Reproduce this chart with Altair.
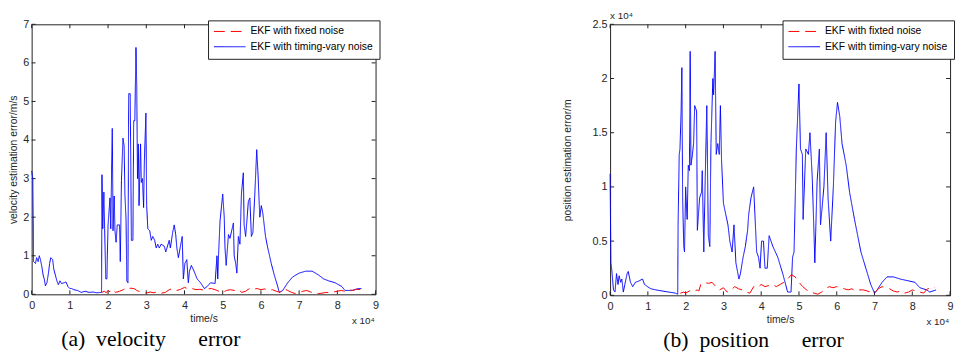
import altair as alt
import pandas as pd

# ---------------- data (time in units of 1e4 s) ----------------
x_ticks = [0, 1, 2, 3, 4, 5, 6, 7, 8, 9]
vel_y_ticks = [0, 1, 2, 3, 4, 5, 6, 7]
pos_y_ticks = [0, 0.5, 1, 1.5, 2, 2.5]

vel_names = ["EKF with fixed noise", "EKF with timing-vary noise"]
pos_names = ["EKF with fixted noise", "EKF with timing-vary noise"]

vel_blue_t = [0, 0.03, 0.05, 0.1, 0.13, 0.17, 0.2, 0.23, 0.27, 0.3, 0.33, 0.36, 0.4, 0.44, 0.47, 0.5,
              0.55, 0.58, 0.62, 0.66, 0.7, 0.74, 0.78, 0.85, 0.9, 0.95, 1.0, 1.05, 1.1, 1.2, 1.3, 1.4,
              1.5, 1.6, 1.7, 1.83, 1.84, 1.86, 1.89, 1.91, 1.94, 1.97, 1.98, 2.0, 2.05, 2.07, 2.11,
              2.13, 2.16, 2.18, 2.21, 2.24, 2.3, 2.32, 2.35, 2.39, 2.42, 2.44, 2.47, 2.49, 2.52, 2.54,
              2.58, 2.61, 2.65, 2.67, 2.7, 2.73, 2.75, 2.77, 2.79, 2.81, 2.85, 2.87, 2.9, 2.93, 2.95,
              2.99, 3.01, 3.04, 3.09, 3.13, 3.17, 3.22, 3.26, 3.3, 3.34, 3.39, 3.47, 3.51, 3.6, 3.63,
              3.69, 3.73, 3.77, 3.8, 3.84, 3.94, 3.97, 4.01, 4.06, 4.1, 4.13, 4.18, 4.25, 4.33, 4.42,
              4.52, 4.59, 4.68, 4.8, 4.85, 4.87, 4.89, 4.93, 5.0, 5.04, 5.06, 5.09, 5.15, 5.19, 5.28,
              5.3, 5.34, 5.37, 5.41, 5.45, 5.49, 5.54, 5.56, 5.6, 5.64, 5.67, 5.71, 5.75, 5.79, 5.84,
              5.89, 5.92, 5.97, 6.01, 6.05, 6.12, 6.18, 6.27, 6.35, 6.44, 6.48, 6.57, 6.7, 6.83, 7.0,
              7.17, 7.34, 7.51, 7.64, 7.77, 7.94, 8.12, 8.2, 8.38, 8.55, 8.63]
vel_blue_v = [3.2, 3.0, 0.85, 0.8, 0.95, 0.85, 1.0, 0.9, 0.7, 0.5, 0.4, 0.22, 0.3, 0.55, 0.8, 0.95,
              0.9, 0.65, 0.5, 0.35, 0.25, 0.35, 0.28, 0.3, 0.32, 0.2, 0.15, 0.15, 0.12, 0.1, 0.05, 0.08,
              0.05, 0.06, 0.04, 0.05, 3.1, 1.7, 2.65, 1.7, 0.4, 0.4, 1.0, 1.8, 2.5, 1.7, 4.3,
              1.65, 2.55, 1.65, 1.35, 1.8, 1.8, 0.85, 2.95, 4.05, 3.85, 2.6, 1.95, 0.35, 0.3, 5.2,
              5.2, 1.4, 1.4, 4.5, 4.5, 6.4, 5.4, 3.0, 3.9, 2.3, 3.9, 2.9, 3.0, 2.25, 3.45,
              4.7, 2.3, 1.7, 1.65, 1.4, 1.5, 1.4, 1.2, 1.3, 1.2, 1.3, 1.25, 1.1, 1.4, 1.2,
              1.6, 1.8, 1.55, 1.2, 0.95, 1.5, 0.4, 0.8, 0.9, 0.3, 0.6, 0.75, 0.6, 0.4, 0.3,
              0.15, 0.2, 0.3, 0.28, 1.0, 0.4, 1.0, 1.9, 2.6, 2.0, 1.2, 0.75, 1.55, 1.45, 1.85,
              1.0, 0.8, 0.55, 1.5, 1.3, 2.6, 3.15, 1.8, 1.5, 2.0, 2.4, 2.5, 1.5, 1.6, 2.6,
              3.75, 3.2, 2.0, 2.3, 2.1, 1.5, 1.2, 0.8, 0.5, 0.2, 0.05, 0.1, 0.3, 0.45, 0.55,
              0.6, 0.6, 0.5, 0.4, 0.35, 0.3, 0.2, 0.1, 0.1, 0.15, 0.15]

vel_red_t = [1.84, 1.9, 1.95, 2.0, 2.05, 2.1, 2.15, 2.2, 2.3, 2.4, 2.5, 2.55, 2.6, 2.7, 2.75, 2.8, 2.9,
             3.0, 3.1, 3.2, 3.3, 3.4, 3.5, 3.6, 3.7, 3.8, 3.9, 4.0, 4.1, 4.2, 4.3, 4.4, 4.5, 4.6, 4.7,
             4.8, 4.9, 5.0, 5.1, 5.2, 5.3, 5.4, 5.5, 5.6, 5.7, 5.8, 5.9, 6.0, 6.1, 6.2, 6.3, 6.4, 6.5,
             6.6, 6.7, 6.8, 6.9, 7.0, 7.1, 7.2, 7.3, 7.4, 7.5, 7.6, 7.7, 7.8, 7.9, 8.0, 8.1, 8.2, 8.3,
             8.4, 8.5, 8.6]
vel_red_v = [0.05, 0.08, 0.04, 0.1, 0.06, 0.12, 0.08, 0.05, 0.08, 0.12, 0.18, 0.15, 0.16, 0.14, 0.1, 0.08, 0.06,
             0.03, 0.06, 0.04, 0.07, 0.03, 0.05, 0.12, 0.15, 0.1, 0.13, 0.18, 0.14, 0.15, 0.12, 0.13, 0.11, 0.14, 0.15,
             0.12, 0.08, 0.05, 0.1, 0.12, 0.1, 0.13, 0.05, 0.08, 0.15, 0.13, 0.15, 0.12, 0.14, 0.1, 0.12, 0.08, 0.05,
             0.15, 0.1, 0.05, 0.02, 0.05, 0.08, 0.1, 0.06, 0.04, 0.02, 0.03, 0.05, 0.04, 0.06, 0.08, 0.1, 0.08, 0.12,
             0.1, 0.13, 0.12]

# position values in units of 1e4 m
pos_blue_t = [0, 0.02, 0.04, 0.09, 0.13, 0.17, 0.21, 0.24, 0.28, 0.31, 0.35, 0.39, 0.45, 0.48, 0.54, 0.6,
              0.67, 0.75, 0.86, 0.91, 0.99, 1.08, 1.21, 1.38, 1.55, 1.73, 1.79, 1.8, 1.83, 1.85, 1.88,
              1.9, 1.92, 1.95, 1.97, 2.0, 2.04, 2.07, 2.1, 2.12, 2.14, 2.18, 2.21, 2.24, 2.29, 2.31,
              2.37, 2.42, 2.44, 2.48, 2.52, 2.56, 2.6, 2.64, 2.67, 2.72, 2.74, 2.78, 2.81, 2.85, 2.89,
              2.92, 2.95, 3.0, 3.06, 3.12, 3.17, 3.23, 3.28, 3.33, 3.41, 3.45, 3.52, 3.58, 3.64, 3.67,
              3.73, 3.8, 3.84, 3.88, 3.93, 3.97, 4.01, 4.06, 4.1, 4.16, 4.21, 4.31, 4.44, 4.57, 4.7,
              4.79, 4.83, 4.87, 4.93, 5.0, 5.04, 5.09, 5.11, 5.18, 5.25, 5.29, 5.35, 5.4, 5.42, 5.48,
              5.54, 5.57, 5.61, 5.66, 5.72, 5.77, 5.84, 5.91, 5.97, 6.02, 6.08, 6.14, 6.25, 6.34, 6.47,
              6.64, 6.77, 6.9, 7.0, 7.07, 7.2, 7.33, 7.5, 7.68, 7.94, 8.07, 8.2, 8.38, 8.46, 8.63]
pos_blue_v = [1.12, 0.3, 0.25, 0.05, 0.03, 0.2, 0.1, 0.18, 0.12, 0.15, 0.03, 0.1, 0.2, 0.22, 0.12, 0.08,
              0.12, 0.13, 0.15, 0.1, 0.08, 0.06, 0.05, 0.04, 0.03, 0.02, 0.01, 0.65, 1.3, 1.35, 1.7,
              2.1, 0.9, 0.45, 0.4, 1.0, 0.7, 1.2, 1.15, 2.25, 1.2, 1.3, 1.4, 1.75, 1.7, 0.6,
              0.9, 0.95, 1.15, 0.4, 1.1, 1.75, 0.55, 0.45, 1.4, 2.0, 1.85, 2.25, 1.3, 1.4, 1.3,
              1.75, 1.25, 0.85, 0.75, 0.65, 0.5, 0.4, 0.65, 0.3, 0.15, 0.2, 0.35, 0.45, 0.6, 0.75,
              0.9, 1.0, 0.7, 0.4, 0.35, 0.25, 0.5, 0.5, 0.25, 0.25, 0.55, 0.45, 0.35, 0.2, 0.03,
              0.03, 0.35, 0.4, 1.35, 1.95, 1.35, 1.3, 0.7, 1.35, 1.3, 1.5, 1.1, 0.55, 0.3, 1.05,
              1.35, 0.65, 0.8, 1.0, 1.5, 0.9, 0.5, 1.0, 1.6, 1.78, 1.65, 1.4, 1.2, 0.95, 0.7,
              0.4, 0.25, 0.1, 0.02, 0.05, 0.12, 0.17, 0.17, 0.15, 0.13, 0.12, 0.07, 0.05, 0.03, 0.05]

pos_red_t = [1.86, 1.95, 2.0, 2.1, 2.2, 2.3, 2.35, 2.4, 2.5, 2.6, 2.7, 2.8, 2.9, 3.0, 3.1, 3.2, 3.3,
             3.4, 3.5, 3.6, 3.7, 3.8, 3.9, 4.0, 4.1, 4.2, 4.3, 4.4, 4.5, 4.6, 4.7, 4.8, 4.9, 5.0, 5.1,
             5.2, 5.3, 5.4, 5.5, 5.6, 5.7, 5.8, 5.9, 6.0, 6.1, 6.2, 6.3, 6.4, 6.5, 6.6, 6.7, 6.8, 6.9,
             7.0, 7.1, 7.2, 7.3, 7.4, 7.5, 7.6, 7.7, 7.8, 7.9, 8.0, 8.1, 8.2, 8.3, 8.4, 8.5, 8.6]
pos_red_v = [0.02, 0.03, 0.02, 0.04, 0.03, 0.05, 0.04, 0.1, 0.12, 0.11, 0.12, 0.08, 0.05, 0.07, 0.03, 0.05, 0.08,
             0.06, 0.05, 0.03, 0.02, 0.08, 0.07, 0.1, 0.08, 0.09, 0.1, 0.08, 0.1, 0.12, 0.15, 0.19, 0.17, 0.12, 0.08,
             0.05, 0.03, 0.02, 0.01, 0.03, 0.06, 0.08, 0.07, 0.08, 0.07, 0.06, 0.05, 0.06, 0.04, 0.05, 0.05, 0.04, 0.03,
             0.02, 0.06, 0.08, 0.07, 0.06, 0.04, 0.03, 0.04, 0.02, 0.03, 0.05, 0.04, 0.03, 0.02, 0.06, 0.07, 0.07]

NB = "\u00a0"
captions = ["(a)" + NB * 2 + "velocity" + NB * 6 + "error",
            "(b)" + NB * 2 + "position" + NB * 6 + "error"]
y_titles = ["velocity estimation error/m/s", "position estimation error/m"]
mult_label = "x 10\u2074"

RED = "#ff0000"
BLUE = "#0000ff"
SANS = "Liberation Sans"
SERIF = "Liberation Serif"
TXT = "#262626"
# legend line symbol: 32px long line starting at the entry's left edge (size 64 -> scale 4)
LEGEND_LINE = "M-1.3125,0H6.6875"


def panel(tb, vb, tr, vr, names, y_ticks, y_title, y_tpad, W, H, caption, cap_dx, top_mult):
    df_b = pd.DataFrame({"t": tb, "v": vb, "series": names[1]})
    df_r = pd.DataFrame({"t": tr, "v": vr, "series": names[0]})
    xs = alt.Scale(domain=[0, 9], nice=False, zero=False)
    ys = alt.Scale(domain=[0, y_ticks[-1]], nice=False, zero=False)
    xax = alt.Axis(values=x_ticks, ticks=False, domain=False, grid=False, labelPadding=5,
                   title="time/s", titlePadding=4, labelFlush=False, format="~g")
    yax = alt.Axis(values=y_ticks, ticks=False, domain=False, grid=False, labelPadding=3,
                   title=y_title, titlePadding=y_tpad, labelFlush=False, format="~g")
    X = alt.X("t:Q", scale=xs, axis=xax)
    Y = alt.Y("v:Q", scale=ys, axis=yax)
    color = alt.Color("series:N", scale=alt.Scale(domain=names, range=[RED, BLUE]),
                      legend=alt.Legend(title=None))
    dash = alt.StrokeDash("series:N", scale=alt.Scale(domain=names, range=[[11, 6], [1, 0]]),
                          legend=alt.Legend(title=None))

    blue = alt.Chart(df_b).mark_line(strokeWidth=1).encode(x=X, y=Y, color=color, strokeDash=dash)
    red = alt.Chart(df_r).mark_line(strokeWidth=1).encode(x=X, y=Y, color=color, strokeDash=dash)

    xt = pd.DataFrame({"t": x_ticks})
    yt = pd.DataFrame({"v": y_ticks})
    tick_b = alt.Chart(xt).mark_rule(color="#222", strokeWidth=1).encode(
        x=X, y=alt.value(H), y2=alt.value(H - 4))
    tick_t = alt.Chart(xt).mark_rule(color="#222", strokeWidth=1).encode(
        x=X, y=alt.value(0), y2=alt.value(4))
    tick_l = alt.Chart(yt).mark_rule(color="#222", strokeWidth=1).encode(
        y=Y, x=alt.value(0), x2=alt.value(4))
    tick_r = alt.Chart(yt).mark_rule(color="#222", strokeWidth=1).encode(
        y=Y, x=alt.value(W), x2=alt.value(W - 4))

    mdf = pd.DataFrame({"s": [mult_label]})
    mult_b = alt.Chart(mdf).mark_text(align="left", baseline="middle", font=SANS, fontSize=10,
                                      color=TXT).encode(text="s:N", x=alt.value(W - 24), y=alt.value(H + 27))
    layers = [tick_b, tick_t, tick_l, tick_r, blue, red, mult_b]
    if top_mult:
        mult_t = alt.Chart(mdf).mark_text(align="left", baseline="middle", font=SANS, fontSize=10,
                                          color=TXT).encode(text="s:N", x=alt.value(0), y=alt.value(-8))
        layers.append(mult_t)

    return alt.layer(*layers).properties(
        width=W, height=H,
        title=alt.TitleParams(caption, orient="bottom", anchor="start", frame="group", dx=cap_dx,
                              font=SERIF, fontSize=22, fontWeight="normal", color="black", offset=3),
    )


left = panel(vel_blue_t, vel_blue_v, vel_red_t, vel_red_v, vel_names, vel_y_ticks,
             y_titles[0], 4, 349, 274, captions[0], 30, False)
right = panel(pos_blue_t, pos_blue_v, pos_red_t, pos_red_v, pos_names, pos_y_ticks,
              y_titles[1], 20, 345, 275, captions[1], 54, True)

chart = alt.hconcat(left, right, spacing=184).resolve_scale(
    color="independent", strokeDash="independent", x="independent", y="independent"
).properties(padding=0).configure_view(
    stroke="#222", strokeWidth=1
).configure_axis(
    labelFont=SANS, labelFontSize=11, labelColor=TXT,
    titleFont=SANS, titleFontSize=10.5, titleFontWeight="normal", titleColor=TXT,
).configure_legend(
    orient="top-right", offset=-4, padding=6, strokeColor="#222", fillColor="white",
    symbolType=LEGEND_LINE, symbolSize=64, symbolStrokeWidth=1,
    labelFont=SANS, labelFontSize=10.5, labelColor="black", labelOffset=26.5, rowPadding=4.5,
    cornerRadius=0,
)

chart.save("out.html", embed_options={"renderer": "svg", "actions": False})
